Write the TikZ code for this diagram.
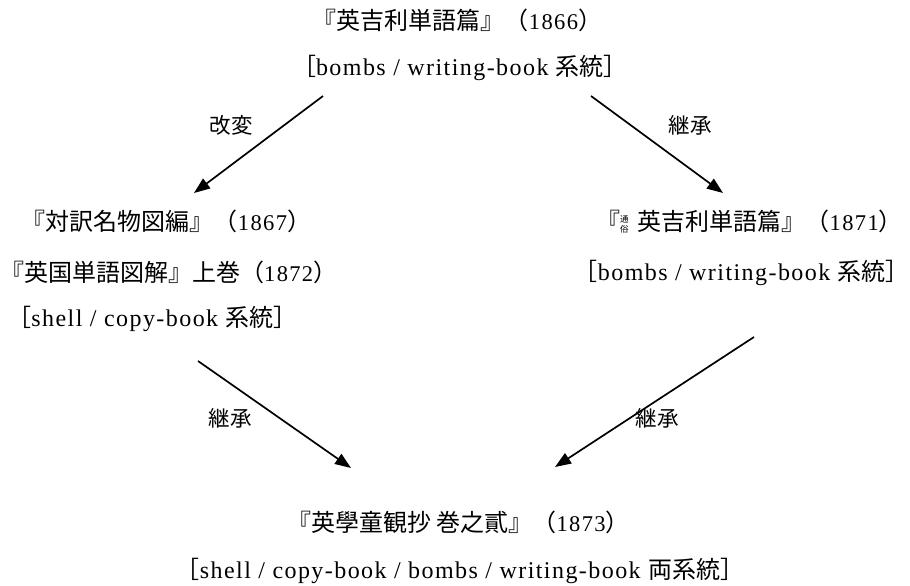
\documentclass[tikz,border=0pt]{standalone}
\usepackage{fontspec}
\setmainfont{Liberation Serif}[LetterSpace=6]
\newfontfamily\jp{Noto Sans CJK JP}
\newfontfamily\jpp{Noto Sans CJK JP}[RawFeature=+palt]
\usetikzlibrary{arrows.meta}
\tikzset{
  txt/.style={inner sep=0pt, anchor=center, text height=0.8em, text depth=0.2em, font=\fontsize{24}{28}\selectfont},
  lbl/.style={inner sep=0pt, anchor=center, font=\fontsize{21.5}{24}\selectfont\jp},
  arr/.style={line width=1.7pt, -{Triangle[length=16pt,width=12pt]}}
}
\newcommand{\J}[1]{{\fontsize{24}{28}\selectfont\jp #1}}
\newcommand{\Jp}[1]{{\fontsize{24}{28}\selectfont\jpp #1}}
\newcommand{\Y}[1]{{\fontsize{22.5}{26}\selectfont #1}}
\newcommand{\Wari}{\raisebox{-0.12em}{\shortstack{\fontsize{8.5}{9}\selectfont\jp 通\\[0pt]\fontsize{8.5}{9}\selectfont\jp 俗}}}
\begin{document}
\begin{tikzpicture}[x=1pt,y=-1pt]
\useasboundingbox (0,0) rectangle (910,586);
% top
\node[txt] (t1) at (457.5,27) {\J{『英吉利単語篇』（}\Y{1866}\J{）}};
\node[txt] (t2) at (460,72) {\J{［}bombs / writing-book \J{系統］}};
% left
\node[txt] (l1) at (166.5,227) {\J{『対訳名物図編』（}\Y{1867}\J{）}};
\node[txt, anchor=west] (l2) at (12,278) {\Jp{『}\J{英国単語図解』上巻（}\Y{1872}\J{）}};
\node[txt] (l3) at (152.5,323) {\J{［}shell / copy-book \J{系統］}};
% right
\node[txt] (r1) at (749.5,227) {\J{『}\Wari\hspace{9pt}\J{英吉利単語篇』（}\Y{1871}\J{）}};
\node[txt, anchor=east] (r2) at (898,277) {\J{［}bombs / writing-book \J{系統}\Jp{］}};
% bottom
\node[txt] (b1) at (458.5,528) {\J{『英學童観抄 巻之貳』（}\Y{1873}\J{）}};
\node[txt] (b2) at (460,575) {\J{［}shell / copy-book / bombs / writing-book \J{両系統］}};
% arrow endpoints
\coordinate (a1s) at (323,96);  \coordinate (a1e) at (194,193);
\coordinate (a2s) at (591,96);  \coordinate (a2e) at (723,193);
\coordinate (a3s) at (198,361); \coordinate (a3e) at (351,468);
\coordinate (a4s) at (754,337); \coordinate (a4e) at (555,467);
\draw[arr] (a1s) -- (a1e);
\draw[arr] (a2s) -- (a2e);
\draw[arr] (a3s) -- (a3e);
\draw[arr] (a4s) -- (a4e);
\node[lbl] (k1) at (231,125) {改変};
\node[lbl] (k2) at (690,125) {継承};
\node[lbl] (k3) at (230,418) {継承};
\node[lbl] (k4) at (657,418) {継承};
\end{tikzpicture}
\end{document}
